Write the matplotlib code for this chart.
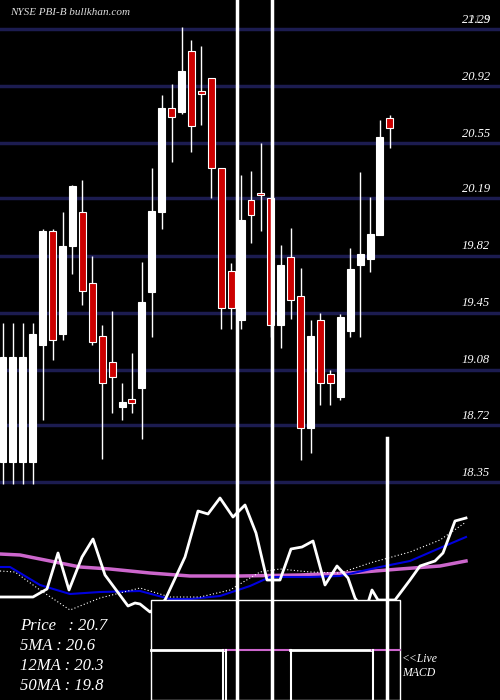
import matplotlib
matplotlib.use("Agg")
import matplotlib.pyplot as plt
from matplotlib.patches import Rectangle

# candle data (open, high, low, close)
opens = [18.48, 18.48, 18.48, 18.48, 19.24, 19.98, 19.31, 19.88, 20.10, 19.64,
         19.30, 19.13, 18.84, 18.89, 18.96, 19.58, 20.10, 20.78, 20.75, 21.15,
         20.89, 20.97, 20.39, 19.72, 19.40, 20.18, 20.22, 20.19, 19.37, 19.81,
         19.56, 18.70, 19.40, 19.05, 18.90, 19.33, 19.76, 19.80, 19.95, 20.71]
closes = [19.16, 19.16, 19.16, 19.31, 19.98, 19.27, 19.88, 20.27, 19.59, 19.26,
          18.99, 19.03, 18.87, 18.86, 19.52, 20.11, 20.78, 20.72, 21.02, 20.66,
          20.87, 20.39, 19.48, 19.48, 20.05, 20.08, 20.21, 19.37, 19.76, 19.53,
          18.70, 19.30, 18.99, 18.99, 19.42, 19.73, 19.83, 19.96, 20.59, 20.65]
highs = [19.38, 19.38, 19.38, 19.38, 19.99, 19.99, 20.10, 20.28, 20.31, 19.82,
         19.37, 19.46, 18.99, 19.19, 19.78, 20.39, 20.86, 20.93, 21.30, 21.22,
         21.18, 20.97, 20.39, 19.77, 20.34, 20.37, 20.55, 20.19, 19.89, 20.00,
         19.74, 19.40, 19.45, 19.08, 19.44, 19.87, 20.36, 20.20, 20.70, 20.73]
lows = [18.34, 18.34, 18.34, 18.34, 18.75, 19.14, 19.27, 19.70, 19.50, 19.24,
        18.50, 18.80, 18.75, 18.80, 18.63, 19.29, 19.99, 20.43, 20.74, 20.49,
        20.67, 20.19, 19.34, 19.34, 19.34, 19.90, 19.98, 19.29, 19.22, 19.41,
        18.49, 18.54, 18.85, 18.85, 18.88, 19.29, 19.29, 19.71, 19.95, 20.52]
grid_levels = [21.29, 20.92, 20.55, 20.19, 19.82, 19.45, 19.08, 18.72, 18.35]
vlines_idx = [23.6, 27.1, 38.7]

# indicator panel lines (panel units)
osc_x = [0, 33, 47, 58, 69, 82, 93, 105, 128, 135, 140, 150, 165, 185, 198, 208, 220, 233,
         245, 256, 267, 280, 291, 302, 313, 325, 337, 348, 355, 365, 372, 378, 395, 410,
         420, 435, 443, 455, 466]
osc_y = [597, 597, 589, 553, 590, 557, 539, 575, 606, 603, 604, 612, 600, 557, 511, 514,
         498, 517, 505, 533, 580, 580, 549, 547, 541, 585, 566, 578, 598, 612, 590, 600,
         600, 580, 566, 561, 553, 521, 518]
ma50_x = [0, 20, 50, 80, 110, 150, 190, 240, 300, 350, 400, 440, 466]
ma50_y = [554, 555, 561, 567, 569, 573, 576, 576, 575, 573, 569, 566, 561]
ma12_x = [0, 10, 40, 70, 100, 140, 170, 190, 220, 250, 270, 310, 340, 380, 410, 440, 466]
ma12_y = [567, 567, 585, 594, 592, 591, 599, 599, 596, 586, 577, 577, 576, 567, 561, 548, 537]
ma5_x = [0, 15, 40, 70, 100, 140, 170, 200, 230, 260, 280, 310, 340, 370, 410, 440, 466]
ma5_y = [571, 572, 590, 610, 598, 588, 597, 597, 590, 572, 569, 572, 573, 563, 552, 540, 522]

info_labels = ["Price   : 20.7", "5MA : 20.6", "12MA : 20.3", "50MA : 19.8"]

W, H = 500, 700
STEP = 9.92
fig = plt.figure(figsize=(5, 7), dpi=100, facecolor="black")
serif = dict(family="Liberation Serif", style="italic", color="white")

# price panel
ax = fig.add_axes([0, 210 / H, 1, 490 / H], facecolor="black")
px = (21.29 - 18.35) / (482 - 29)
ax.set_ylim(21.29 - 461 * px, 21.29 + 29 * px)
ax.set_xlim(-3 / STEP, 497 / STEP)
ax.axis("off")
for g in grid_levels:
    ax.axhline(g, color="#1c1c50", lw=2.5, zorder=1)
    ax.text(490 / STEP - 0.3, g + 0.02, f"{g:.2f}", ha="right", va="bottom", fontsize=9, **serif)
ax.text(490 / STEP - 0.3, 21.31, "21.3", ha="right", va="bottom", fontsize=9, alpha=0.6, **serif)
for i, (o, h, l, c) in enumerate(zip(opens, highs, lows, closes)):
    up = c >= o
    ax.vlines(i, l, h, color="white", lw=1, zorder=2)
    ax.add_patch(Rectangle((i - 0.35, min(o, c)), 0.7, max(abs(c - o), 0.015),
                           facecolor="white" if up else "#cc0000", edgecolor="white",
                           lw=0.8, zorder=3))
ax.text(0.7, 21.40, "NYSE PBI-B bullkhan.com", fontsize=8, ha="left", va="center",
        family="Liberation Serif", style="italic", color="#dddddd")

# indicator panel
bx = fig.add_axes([0, 0, 1, 210 / H], facecolor="black")
bx.set_xlim(0, W)
bx.set_ylim(H, 490)
bx.axis("off")
bx.plot(ma50_x, ma50_y, color="#cc66cc", lw=2.5, zorder=2)
bx.plot(ma12_x, ma12_y, color="#0000dd", lw=1.5, zorder=2)
bx.plot(ma5_x, ma5_y, color="white", lw=0.8, ls=(0, (1, 2)), zorder=2)
bx.plot(osc_x, osc_y, color="white", lw=2, zorder=2)
bx.add_patch(Rectangle((151, 600), 249, 100, facecolor="black", edgecolor="white", lw=1, zorder=4))
bx.plot([151, 225], [650, 650], color="white", lw=2, zorder=5)
bx.plot([225, 290], [650, 650], color="#cc66cc", lw=1.5, zorder=5)
bx.plot([290, 372], [650, 650], color="white", lw=2, zorder=5)
bx.plot([372, 400], [650, 650], color="#cc66cc", lw=1.5, zorder=5)
for sx in [223, 226, 291, 373]:
    bx.plot([sx, sx], [650, 700], color="white", lw=1.5, zorder=5)
for k, t in enumerate(info_labels):
    bx.text(20, 626 + k * 20, t, fontsize=12, va="center", zorder=6, **serif)
bx.text(402, 666, "<<Live\nMACD", fontsize=8.5, va="center", zorder=6, linespacing=1.3, **serif)

# full height vertical markers
for v in vlines_idx:
    xp = 3 + v * STEP
    fig.add_artist(plt.Line2D([xp / W, xp / W], [0, 1 if v < 30 else (700 - 438) / H],
                              color="white", lw=2.5, zorder=10))

fig.savefig("out.png", dpi=100, facecolor="black")
